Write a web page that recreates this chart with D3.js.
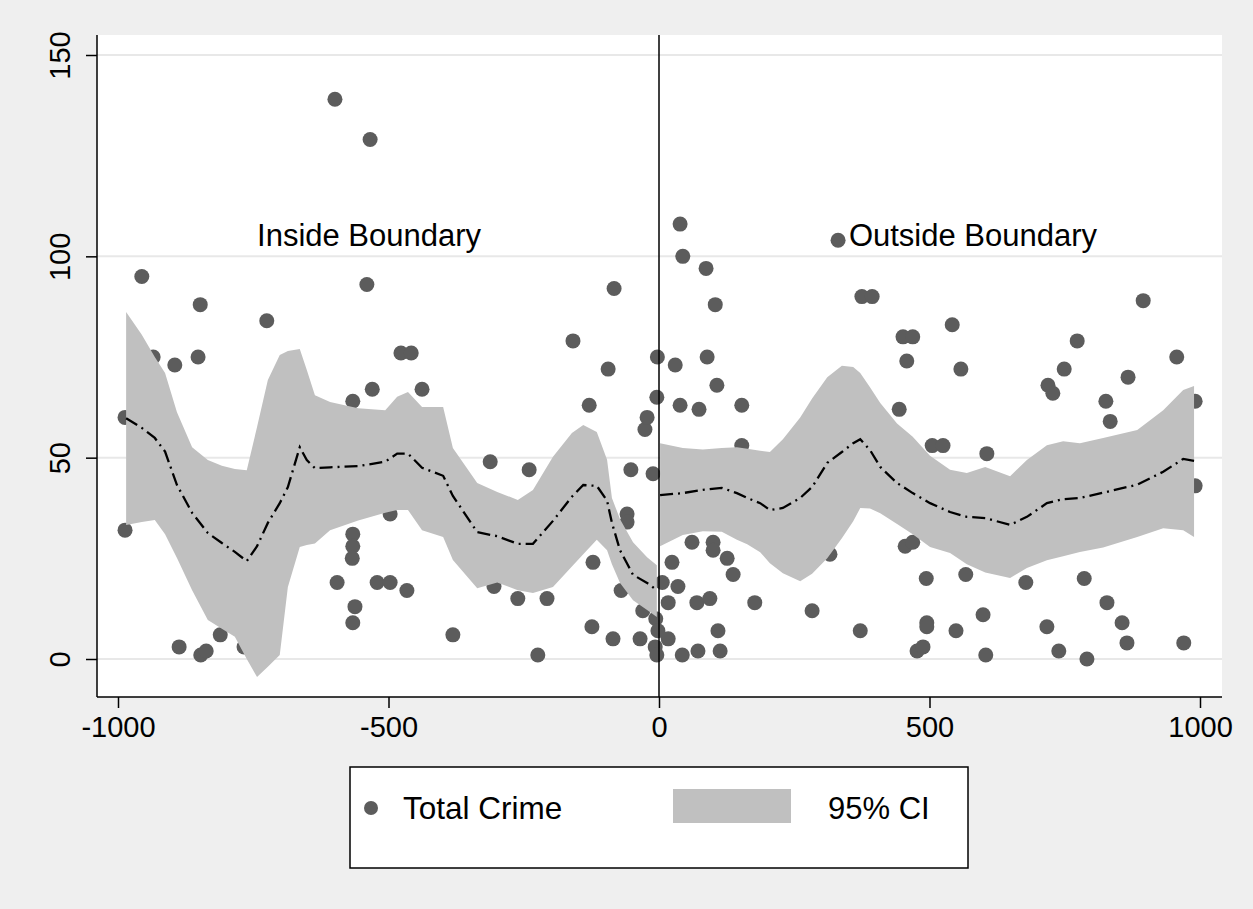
<!DOCTYPE html>
<html>
<head>
<meta charset="utf-8">
<script src="https://cdn.jsdelivr.net/npm/d3@7"></script>
<style>
  body { margin: 0; background: #efefef; }
  svg { display: block; font-family: "Liberation Sans", Arial, sans-serif; }
</style>
</head>
<body>
<div id="chart"></div>
<script>
// Scatter: distance to boundary vs total crime
var crime_x = [-987, -987, -956, -935, -895, -852, -848, -887, -847, -837, -811, -767, -725, -599, -534, -540,
    -566, -530, -566, -566, -567, -595, -521, -497, -562, -566, -497, -477, -458, -438, -466, -381, -312, -305,
    -261, -240, -207, -224, -159, -129, -122, -124, -94, -83, -70, -85, -59, -59, -52, -35, -30, -26, -22, -11,
    -4, -3, -6, -7, -4, -2, 6, 17, 17,
    30, 39, 44, 87, 104, 89, 107, 39, 74, 153, 153, 24, 35, 61, 100, 100, 126, 137, 177, 70, 94, 109, 43, 72,
    113, 283, 316, 331, 375, 394, 372, 451, 469, 458, 444, 505, 525, 455, 469, 494, 495, 495, 477, 488, 542,
    558, 606, 567, 549, 599, 604, 678, 717, 719, 728, 749, 739, 786, 791, 773, 826, 834, 828, 856, 865, 867,
    895, 957, 970, 991, 991];
var crime_y = [32, 60, 95, 75, 73, 75, 88, 3, 1, 2, 6, 3, 84, 139, 129, 93,
    64, 67, 31, 28, 25, 19, 19, 19, 13, 9, 36, 76, 76, 67, 17, 6, 49, 18,
    15, 47, 15, 1, 79, 63, 24, 8, 72, 92, 17, 5, 36, 34, 47, 5, 12, 57, 60, 46,
    65, 75, 10, 3, 1, 7, 19, 14, 5,
    73, 108, 100, 97, 88, 75, 68, 63, 62, 63, 53, 24, 18, 29, 29, 27, 25, 21, 14, 14, 15, 7, 1, 2,
    2, 12, 26, 104, 90, 90, 7, 80, 80, 74, 62, 53, 53, 28, 29, 20, 9, 8, 2, 3, 83,
    72, 51, 21, 7, 11, 1, 19, 8, 68, 66, 72, 2, 20, 0, 79, 64, 59, 14, 9, 4, 70,
    89, 75, 4, 64, 43];

// Local fit and 95% CI, inside the boundary
var left_x = [-985, -956, -932, -913, -891, -863, -834, -808, -784, -762, -743, -723, -701, -686, -664, -651, -636,
    -608, -556, -506, -484, -464, -438, -399, -381, -336, -299, -261, -233, -196, -161, -140, -115, -96, -87,
    -72, -48, -22, -4];
var left_fit = [59.8, 57.4, 54.9, 51.5, 43.2, 36.3, 31.3, 28.8, 26.6, 24.3, 28.0, 33.8, 38.7, 42.7, 52.6, 49.4, 47.4,
    47.6, 47.9, 49.0, 51.0, 51.0, 47.5, 45.5, 40.5, 31.5, 30.5, 28.6, 28.6, 34.3, 40.3, 43.2, 43.0, 39.3, 33.8,
    27.0, 20.9, 18.9, 17.1];
var left_lo = [33.3, 34.0, 34.5, 31.0, 25.1, 17.1, 9.7, 7.5, 5.5, 0.0, -4.5, -1.9, 1.0, 17.9, 27.8, 28.3, 28.7,
    32.0, 34.4, 36.3, 37.0, 37.0, 32.0, 30.3, 24.6, 17.6, 19.0, 17.1, 16.4, 17.9, 23.0, 26.0, 29.6, 27.0, 23.5,
    18.9, 14.6, 12.2, 10.4];
var left_hi = [86.2, 80.5, 75.0, 71.0, 61.3, 52.6, 49.4, 48.0, 47.2, 46.9, 57.6, 69.3, 75.5, 76.5, 77.0, 71.8, 65.5,
    63.8, 62.3, 61.8, 65.1, 66.3, 62.6, 62.6, 52.4, 43.7, 41.5, 39.5, 42.0, 50.2, 56.1, 58.1, 56.4, 49.5, 40.0,
    34.7, 29.0, 25.3, 23.3];

// Local fit and 95% CI, outside the boundary
var right_x = [2, 44, 81, 116, 144, 163, 187, 205, 229, 261, 283, 311, 338, 359, 372, 390, 409, 440, 469, 501,
    538, 569, 603, 649, 680, 717, 747, 778, 821, 884, 932, 969, 989];
var right_fit = [40.7, 41.2, 42.0, 42.5, 41.2, 40.0, 38.7, 37.0, 37.5, 40.0, 42.7, 48.7, 51.4, 53.6, 54.6, 51.9,
    47.7, 43.7, 41.2, 38.7, 36.5, 35.3, 35.0, 33.3, 35.3, 38.7, 39.7, 40.0, 41.3, 43.3, 46.5, 49.7, 49.2];
var right_lo = [28.0, 30.8, 31.7, 31.6, 29.6, 28.5, 26.5, 23.8, 21.3, 19.3, 21.2, 25.0, 30.0, 34.2, 37.5, 37.4,
    36.2, 33.5, 31.0, 27.8, 26.3, 23.5, 21.5, 20.1, 22.6, 24.5, 25.5, 26.6, 27.7, 30.3, 32.5, 32.0, 30.3];
var right_hi = [53.6, 52.4, 52.0, 52.4, 52.6, 52.2, 51.7, 51.4, 54.6, 60.0, 64.7, 70.0, 72.8, 72.5, 71.0, 67.5,
    63.6, 58.5, 55.2, 50.5, 47.0, 46.2, 47.7, 45.4, 49.4, 53.1, 54.1, 53.6, 54.9, 56.9, 61.8, 66.8, 67.8];

var x_ticks = [-1000, -500, 0, 500, 1000];
var y_ticks = [0, 50, 100, 150];

// Create SVG Element
var chart_width = 1253;
var chart_height = 909;
var plot_left = 97, plot_right = 1222, plot_top = 35, plot_bottom = 697;
var dot_color = '#5c5c5c';
var band_color = '#c0c0c0';
var font = '"Liberation Sans", Arial, sans-serif';

var svg = d3.select('#chart')
    .append('svg')
    .attr('width', chart_width)
    .attr('height', chart_height);

svg.append('rect')
    .attr('width', chart_width)
    .attr('height', chart_height)
    .attr('fill', '#efefef');

var x_scale = d3.scaleLinear()
    .domain([-1000, 1000])
    .range([118, 1200]);

var y_scale = d3.scaleLinear()
    .domain([0, 150])
    .range([659, 55]);

// plot region
svg.append('rect')
    .attr('x', plot_left)
    .attr('y', plot_top)
    .attr('width', plot_right - plot_left)
    .attr('height', plot_bottom - plot_top)
    .attr('fill', '#ffffff');

// grid lines
svg.selectAll('.grid')
    .data(y_ticks)
    .enter()
    .append('line')
    .attr('class', 'grid')
    .attr('x1', plot_left)
    .attr('x2', plot_right)
    .attr('y1', function (d) { return y_scale(d); })
    .attr('y2', function (d) { return y_scale(d); })
    .attr('stroke', '#e8e8e8')
    .attr('stroke-width', 2);

// points
svg.selectAll('.dot')
    .data(crime_x)
    .enter()
    .append('circle')
    .attr('class', 'dot')
    .attr('cx', function (d) { return x_scale(d); })
    .attr('cy', function (d, i) { return y_scale(crime_y[i]); })
    .attr('r', 7.5)
    .attr('fill', dot_color);

// CI bands and fitted lines
var area = d3.area()
    .x(function (d) { return x_scale(d[0]); })
    .y0(function (d) { return y_scale(d[1]); })
    .y1(function (d) { return y_scale(d[2]); });

var line = d3.line()
    .x(function (d) { return x_scale(d[0]); })
    .y(function (d) { return y_scale(d[1]); });

var sides = [
    { x: left_x, fit: left_fit, lo: left_lo, hi: left_hi },
    { x: right_x, fit: right_fit, lo: right_lo, hi: right_hi }
];

sides.forEach(function (s) {
    var band = s.x.map(function (v, i) { return [v, s.lo[i], s.hi[i]]; });
    var fit = s.x.map(function (v, i) { return [v, s.fit[i]]; });

    svg.append('path')
        .attr('d', area(band))
        .attr('fill', band_color);

    svg.append('path')
        .attr('d', line(fit))
        .attr('fill', 'none')
        .attr('stroke', '#000')
        .attr('stroke-width', 2.3)
        .attr('stroke-dasharray', '13,5,2,5');
});

// boundary line
svg.append('line')
    .attr('x1', x_scale(0))
    .attr('x2', x_scale(0))
    .attr('y1', plot_top)
    .attr('y2', plot_bottom)
    .attr('stroke', '#000')
    .attr('stroke-width', 1.5);

// axes (plain hyphen for negatives, as in the original)
var x_axis = d3.axisBottom(x_scale)
    .tickValues(x_ticks)
    .tickSize(11)
    .tickPadding(8)
    .tickFormat(function (d) { return String(d); });

svg.append('g')
    .attr('transform', 'translate(0,' + plot_bottom + ')')
    .call(x_axis)
    .call(function (g) {
        g.select('.domain').attr('d', 'M' + plot_left + ',0H' + plot_right).attr('stroke-width', 1.5);
        g.selectAll('.tick line').attr('stroke-width', 1.5);
        g.selectAll('text').attr('font-size', 29).attr('fill', '#000').attr('font-family', font);
    });

var y_axis = d3.axisLeft(y_scale)
    .tickValues(y_ticks)
    .tickSize(11)
    .tickFormat(function (d) { return String(d); });

svg.append('g')
    .attr('transform', 'translate(' + plot_left + ',0)')
    .call(y_axis)
    .call(function (g) {
        g.select('.domain').attr('d', 'M0,' + plot_top + 'V' + plot_bottom).attr('stroke-width', 1.5);
        g.selectAll('.tick line').attr('stroke-width', 1.5);
        g.selectAll('text')
            .attr('font-size', 29)
            .attr('fill', '#000')
            .attr('font-family', font)
            .attr('x', null)
            .attr('dy', null)
            .attr('text-anchor', 'middle')
            .attr('transform', 'translate(-27,0) rotate(-90)');
    });

// annotations
svg.append('text')
    .attr('x', x_scale(-743))
    .attr('y', y_scale(102.5))
    .attr('font-size', 31)
    .text('Inside Boundary');

svg.append('text')
    .attr('x', x_scale(351))
    .attr('y', y_scale(102.5))
    .attr('font-size', 31)
    .text('Outside Boundary');

// legend
var legend = svg.append('g');

legend.append('rect')
    .attr('x', 350)
    .attr('y', 767)
    .attr('width', 618)
    .attr('height', 101)
    .attr('fill', '#fff')
    .attr('stroke', '#000')
    .attr('stroke-width', 1.5);

legend.append('circle')
    .attr('cx', 371)
    .attr('cy', 808)
    .attr('r', 7)
    .attr('fill', dot_color);

legend.append('text')
    .attr('x', 403)
    .attr('y', 819)
    .attr('font-size', 31.5)
    .text('Total Crime');

legend.append('rect')
    .attr('x', 673)
    .attr('y', 789)
    .attr('width', 118)
    .attr('height', 34)
    .attr('fill', band_color);

legend.append('text')
    .attr('x', 828)
    .attr('y', 819)
    .attr('font-size', 31)
    .text('95% CI');
</script>
</body>
</html>
